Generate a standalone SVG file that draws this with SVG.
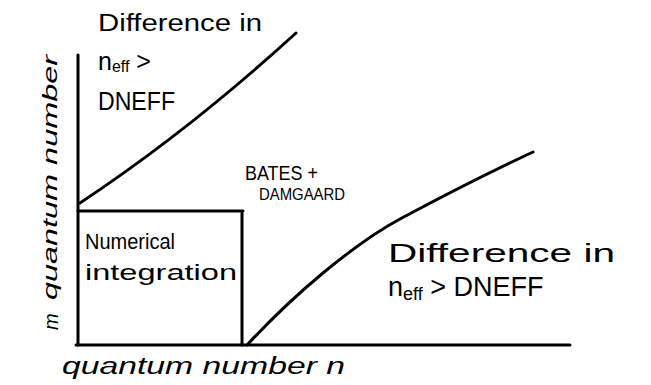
<svg xmlns="http://www.w3.org/2000/svg" width="651" height="385" viewBox="0 0 651 385">
<style>
.ln{fill:none;stroke:#000;stroke-width:3;stroke-linecap:round;stroke-linejoin:round}
.t{font-family:"Liberation Sans",Arial,sans-serif;fill:#000}
.it{font-style:italic}
</style>
<rect width="651" height="385" fill="#fff"/>
<g id="axes">
<path class="ln" d="M78,55 L78,345"/>
<path class="ln" d="M76,345 L570,345"/>
</g>
<g id="numerical-integration">
<path class="ln" d="M78,211 L243,211 M242,213 L242,345"/>
<text class="t" x="85" y="249" font-size="22" textLength="90" lengthAdjust="spacingAndGlyphs">Numerical</text>
<text class="t" x="85" y="280" font-size="22" textLength="152" lengthAdjust="spacingAndGlyphs">integration</text>
</g>
<g id="connectors">
<path class="ln" d="M80,203 Q190,130 296,33"/>
<path class="ln" d="M247,345 C275,315 300,292 323,273 S372,234 400,219 S490,172 533,152"/>
</g>
<g id="upper-region">
<text class="t" x="98" y="31" font-size="23" textLength="164" lengthAdjust="spacingAndGlyphs">Difference in</text>
<text class="t" x="98" y="70" font-size="25">n<tspan font-size="16" dy="2">eff</tspan><tspan dy="-2"> &gt;</tspan></text>
<text class="t" x="98" y="110" font-size="25" textLength="77" lengthAdjust="spacingAndGlyphs">DNEFF</text>
</g>
<g id="bates-damgaard">
<text class="t" x="245" y="180" font-size="20" textLength="73" lengthAdjust="spacingAndGlyphs">BATES +</text>
<text class="t" x="259" y="200" font-size="16" textLength="86" lengthAdjust="spacingAndGlyphs">DAMGAARD</text>
</g>
<g id="lower-region">
<text class="t" x="388" y="262" font-size="25" textLength="227" lengthAdjust="spacingAndGlyphs">Difference in</text>
<text class="t" x="388" y="296" font-size="27">n<tspan font-size="18" dy="4">eff</tspan><tspan dy="-4"> &gt; DNEFF</tspan></text>
</g>
<g id="axis-labels">
<text class="t it" x="62" y="374" font-size="23" textLength="283" lengthAdjust="spacingAndGlyphs">quantum number n</text>
<text class="t it" transform="translate(57,300) rotate(-90)" x="0" y="0" font-size="21" textLength="245" lengthAdjust="spacingAndGlyphs">quantum number</text>
<text class="t it" transform="translate(58,330) rotate(-90)" x="0" y="0" font-size="20">m</text>
</g>
</svg>
